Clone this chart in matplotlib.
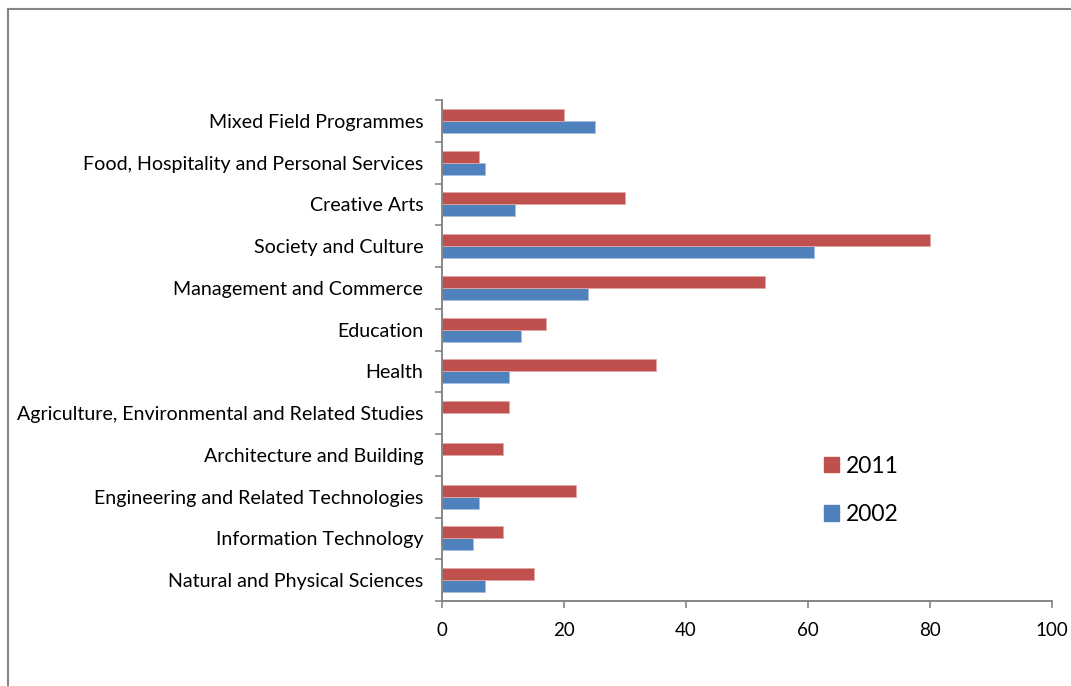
import matplotlib.pyplot as plt
import numpy as np
from matplotlib.lines import Line2D
from matplotlib.patches import Patch

# categories from bottom to top, as drawn
categories = [
    'Natural and Physical Sciences',
    'Information Technology',
    'Engineering and Related Technologies',
    'Architecture and Building',
    'Agriculture, Environmental and Related Studies',
    'Health',
    'Education',
    'Management and Commerce',
    'Society and Culture',
    'Creative Arts',
    'Food, Hospitality and Personal Services',
    'Mixed Field Programmes',
]
values_2011 = [15, 10, 22, 10, 11, 35, 17, 53, 80, 30, 6, 20]
values_2002 = [7, 5, 6, 0, 0, 11, 13, 24, 61, 12, 7, 25]
x_ticks = [0, 20, 40, 60, 80, 100]

RED = '#C0504D'
BLUE = '#4F81BD'
AXIS_GREY = '#868686'

plt.rcParams['font.family'] = ['Lato', 'DejaVu Sans']

fig = plt.figure(figsize=(10.71, 6.86), dpi=100)
ax = fig.add_axes([442 / 1071, 1 - 601 / 686, 610 / 1071, 501 / 686])

y = np.arange(len(categories))
h = 0.287
ax.barh(y - h / 2, values_2002, height=h, color=BLUE,
        edgecolor='#A7C0DE', linewidth=0.6, label='2002')
ax.barh(y + h / 2, values_2011, height=h, color=RED,
        edgecolor='#E0A8A6', linewidth=0.6, label='2011')

ax.set_xlim(0, 100)
ax.set_ylim(-0.5, len(categories) - 0.5)
ax.set_xticks(x_ticks)
ax.set_xticklabels([str(t) for t in x_ticks], fontsize=13.5)

# category labels centred, tick marks on the boundaries
ax.set_yticks(y)
ax.set_yticklabels(categories, fontsize=14.1)
ax.tick_params(axis='y', length=0, pad=13.5)
ax.set_yticks(np.arange(-0.5, len(categories)), minor=True)
ax.tick_params(axis='y', which='minor', length=5, width=1.2,
               color=AXIS_GREY, direction='out')
ax.tick_params(axis='x', length=5, width=1.2, color=AXIS_GREY,
               direction='out', pad=10)

for side in ['top', 'right']:
    ax.spines[side].set_visible(False)
for side in ['left', 'bottom']:
    ax.spines[side].set_color(AXIS_GREY)
    ax.spines[side].set_linewidth(1.4)

handles = [Patch(color=RED, label='2011'), Patch(color=BLUE, label='2002')]
fig.legend(handles=handles, loc='upper left',
           bbox_to_anchor=(803 / 1071, 1 - 435 / 686),
           frameon=False, fontsize=16.5, handlelength=0.65, handleheight=0.65,
           handletextpad=0.3, labelspacing=1.2)

# chart area border (partially cropped)
fig.add_artist(Line2D([8 / 1071, 8 / 1071], [0, 1 - 9 / 686],
                      color=AXIS_GREY, linewidth=1.5))
fig.add_artist(Line2D([8 / 1071, 1], [1 - 9 / 686, 1 - 9 / 686],
                      color=AXIS_GREY, linewidth=1.5))

fig.savefig('out.png', dpi=100)
